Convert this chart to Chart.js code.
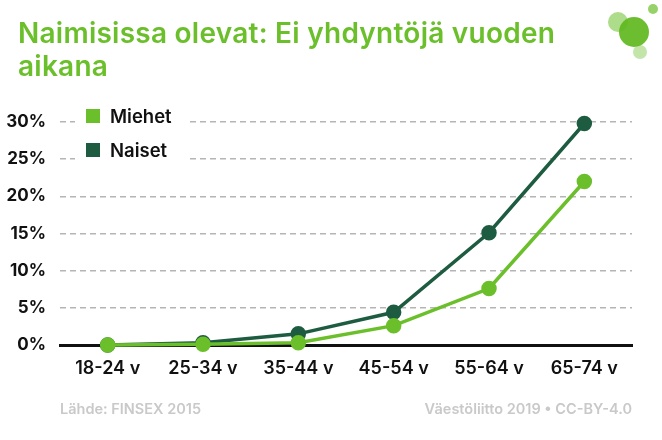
<!DOCTYPE html>
<html>
<head>
<meta charset="utf-8">
<script src="https://cdn.jsdelivr.net/npm/chart.js@4.4.1/dist/chart.umd.min.js"></script>
<style>
  html, body { margin: 0; padding: 0; background: #fff; }
  #wrap { position: relative; width: 662px; height: 440px; overflow: hidden; font-family: Inter, "Noto Sans", sans-serif; }
  #title { position: absolute; left: 18px; top: 17px; width: 590px; font-size: 28px; line-height: 33px; font-weight: 600; color: #6abf2a; letter-spacing: 0.25px; }
  #chartBox { position: absolute; left: 0; top: 0; width: 662px; height: 440px; }
  .foot { position: absolute; top: 400px; font-size: 14.5px; font-weight: 600; color: #c9c9c9; }
  #src { left: 60px; }
  #lic { right: 30px; }
  .dot { position: absolute; border-radius: 50%; }
</style>
</head>
<body>
<div id="wrap">
  <div id="chartBox"><canvas id="c" width="662" height="440"></canvas></div>
  <div id="title">Naimisissa olevat: Ei yhdyntöjä vuoden<br>aikana</div>
  <div class="dot" style="left:608px;top:12px;width:20px;height:20px;background:rgba(106,191,42,0.55);"></div>
  <div class="dot" style="left:633px;top:45px;width:14px;height:14px;background:rgba(106,191,42,0.4);"></div>
  <div class="dot" style="left:619px;top:17px;width:30px;height:30px;background:rgba(96,185,30,0.92);"></div>
  <div class="dot" style="left:648px;top:4px;width:10px;height:10px;background:rgba(106,191,42,0.7);"></div>
  <div class="foot" id="src">Lähde: FINSEX 2015</div>
  <div class="foot" id="lic">Väestöliitto 2019 • CC-BY-4.0</div>
</div>
<script>
const categories = ["18-24 v", "25-34 v", "35-44 v", "45-54 v", "55-64 v", "65-74 v"];
const miehet = [0, 0.1, 0.3, 2.6, 7.6, 22.0];
const naiset = [0, 0.3, 1.5, 4.4, 15.1, 29.8];
const yTicks = [0, 5, 10, 15, 20, 25, 30];

const green = "#6abf2a";
const dark = "#1e5c41";

const legendPlugin = {
  id: "insideLegend",
  beforeDatasetsDraw(chart) {
    const ctx = chart.ctx;
    const area = chart.chartArea;
    ctx.save();
    ctx.fillStyle = "#fff";
    ctx.fillRect(area.left + 15, area.top - 18, 115, 60);
    const rows = [
      { label: chart.data.datasets[0].label, color: chart.data.datasets[0].borderColor },
      { label: chart.data.datasets[1].label, color: chart.data.datasets[1].borderColor }
    ];
    ctx.font = "600 18.5px Inter, 'Noto Sans', sans-serif";
    ctx.textBaseline = "middle";
    rows.forEach((r, i) => {
      const y = area.top - 6 + i * 34;
      ctx.fillStyle = r.color;
      ctx.fillRect(area.left + 26, y - 7, 14, 14);
      ctx.fillStyle = "#111";
      ctx.fillText(r.label, area.left + 50, y + 1);
    });
    ctx.restore();
  }
};

new Chart(document.getElementById("c"), {
  type: "line",
  data: {
    labels: categories,
    datasets: [
      { label: "Miehet", data: miehet, borderColor: green, backgroundColor: green, pointBackgroundColor: green, pointBorderColor: green, borderWidth: 3.5, pointRadius: 6, pointHoverRadius: 6, tension: 0, clip: false },
      { label: "Naiset", data: naiset, borderColor: dark, backgroundColor: dark, pointBackgroundColor: dark, pointBorderColor: dark, borderWidth: 3.5, pointRadius: 6, pointHoverRadius: 6, tension: 0, clip: false }
    ]
  },
  options: {
    responsive: false,
    animation: false,
    events: [],
    layout: { padding: { top: 122, left: 0, right: 30, bottom: 0 } },
    plugins: { legend: { display: false }, tooltip: { enabled: false }, title: { display: false } },
    scales: {
      x: {
        offset: true,
        grid: { display: false, drawTicks: false },
        border: { display: true, color: "#111", width: 3 },
        ticks: { color: "#111", padding: 13, font: { family: "Inter, 'Noto Sans', sans-serif", size: 18, weight: "600" } },
        afterFit(scale) { scale.height = 95; }
      },
      y: {
        min: 0, max: 30,
        afterBuildTicks(scale) { scale.ticks = yTicks.map(v => ({ value: v })); },
        grid: { color: "#b5b5b5", lineWidth: 1.5, drawTicks: false },
        border: { display: false, dash: [6, 4] },
        ticks: { color: "#111", padding: 14, font: { family: "Inter, 'Noto Sans', sans-serif", size: 17, weight: "700" }, callback: v => v + "%" },
        afterFit(scale) { scale.width = 60; }
      }
    }
  },
  plugins: [legendPlugin]
});
</script>
</body>
</html>
